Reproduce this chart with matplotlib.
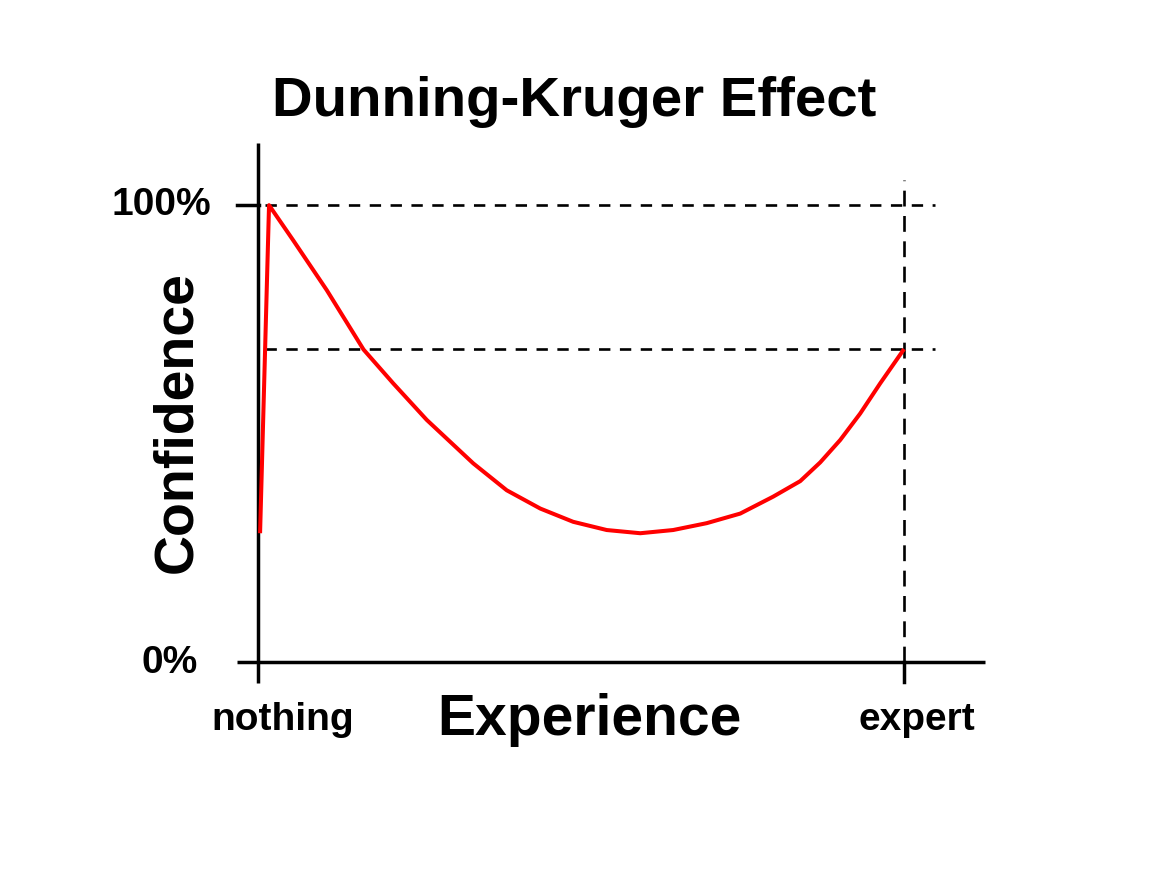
import numpy as np
import matplotlib.pyplot as plt

plt.rcParams['font.family'] = ['Liberation Sans', 'DejaVu Sans']

# experience (0 = nothing, 100 = expert) vs confidence (%)
experience = [0.16, 1.55, 5.3, 10.5, 16.2, 20.8, 26.0, 30.7, 33.2, 38.4, 43.6,
              48.7, 53.9, 59.1, 64.2, 69.4, 74.6, 79.7, 83.9, 87.0, 90.1, 93.2,
              96.3, 100.0]
confidence = [28.2, 100.0, 92.3, 81.4, 68.4, 61.0, 53.0, 46.8, 43.5, 37.6, 33.6,
              30.7, 28.9, 28.2, 28.9, 30.4, 32.5, 36.2, 39.6, 43.7, 48.6, 54.4,
              61.0, 68.5]
expert_confidence = 68.5
peak_confidence = 100

fig = plt.figure(figsize=(11.64, 8.75), dpi=100)
ax = fig.add_axes([0, 0, 1, 1])
# map data so that 0..100 on x spans the drawn axis, 0..100% on y too
ax.set_xlim(-40.16, 140.3)
ax.set_ylim(-46.6, 144.9)
ax.axis('off')

# axes lines
ax.plot([-0.15, -0.15], [-4.6, 113.6], color='black', lw=2.5, solid_capstyle='butt')
ax.plot([-3.4, 112.6], [0, 0], color='black', lw=2.5, solid_capstyle='butt')
ax.plot([-3.4, 0], [peak_confidence, peak_confidence], color='black', lw=2.5)
ax.plot([100, 100], [-4.4, 0], color='black', lw=2.5)

# dashed guides
ax.plot([1, 104.8], [peak_confidence, peak_confidence], color='black', lw=1.9,
        dashes=(4.3, 3.6))
ax.plot([1, 104.8], [expert_confidence, expert_confidence], color='black', lw=1.9,
        dashes=(4.3, 3.6))
ax.plot([100, 100], [0, 105.5], color='black', lw=1.9, dashes=(6.0, 3.6))

# the curve
ax.plot(experience, confidence, color='#ff0000', lw=2.9,
        solid_joinstyle='round', solid_capstyle='butt')

# labels
ax.text(48.8, (662 - 116) / 4.57, 'Dunning-Kruger Effect', fontsize=40.6,
        fontweight='bold', ha='center', va='baseline')
ax.text(-12.7, (662 - 422) / 4.57, 'Confidence', fontsize=40, fontweight='bold',
        rotation=90, ha='center', va='center')
ax.text(51.3, (662 - 735) / 4.57, 'Experience', fontsize=41, fontweight='bold',
        ha='center', va='baseline')
ax.text(3.6, (662 - 730) / 4.57, 'nothing', fontsize=28, fontweight='bold',
        ha='center', va='baseline')
ax.text(102.0, (662 - 730) / 4.57, 'expert', fontsize=28, fontweight='bold',
        ha='center', va='baseline')
ax.text(-15.2, (662 - 215) / 4.57, '100%', fontsize=28, fontweight='bold',
        ha='center', va='baseline')
ax.text(-13.8, (662 - 673) / 4.57, '0%', fontsize=28, fontweight='bold',
        ha='center', va='baseline')

fig.savefig('out.png', dpi=100)
